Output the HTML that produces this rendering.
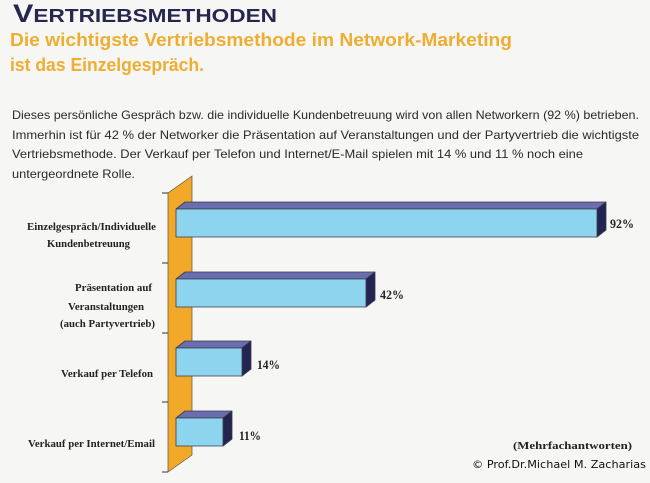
<!DOCTYPE html>
<html>
<head>
<meta charset="utf-8">
<style>
  html, body { margin: 0; padding: 0; background: #f6f6f4; }
  svg { display: block; }
</style>
</head>
<body>
<svg width="650" height="483" viewBox="0 0 650 483" xmlns="http://www.w3.org/2000/svg">
  <rect x="0" y="0" width="650" height="483" fill="#f6f6f4"/>

  <!-- Title -->
  <text x="13" y="22" font-family="Liberation Sans, sans-serif" font-weight="bold" fill="#27264f" textLength="264" lengthAdjust="spacingAndGlyphs"><tspan font-size="25">V</tspan><tspan font-size="18.5">ERTRIEBSMETHODEN</tspan></text>

  <!-- Subtitle -->
  <text x="10" y="46" font-family="Liberation Sans, sans-serif" font-weight="bold" font-size="18" fill="#efad32" textLength="502" lengthAdjust="spacingAndGlyphs">Die wichtigste Vertriebsmethode im Network-Marketing</text>
  <text x="10" y="71" font-family="Liberation Sans, sans-serif" font-weight="bold" font-size="18" fill="#efad32" textLength="194" lengthAdjust="spacingAndGlyphs">ist das Einzelgespräch.</text>

  <!-- Body text -->
  <g font-family="Liberation Sans, sans-serif" font-size="12" fill="#2a2a2a">
    <text x="12" y="119" textLength="627" lengthAdjust="spacingAndGlyphs">Dieses persönliche Gespräch bzw. die individuelle Kundenbetreuung wird von allen Networkern (92 %) betrieben.</text>
    <text x="12" y="139" textLength="627" lengthAdjust="spacingAndGlyphs">Immerhin ist für 42 % der Networker die Präsentation auf Veranstaltungen und der Partyvertrieb die wichtigste</text>
    <text x="12" y="158" textLength="571" lengthAdjust="spacingAndGlyphs">Vertriebsmethode. Der Verkauf per Telefon und Internet/E-Mail spielen mit 14 % und 11 % noch eine</text>
    <text x="12" y="178" textLength="123" lengthAdjust="spacingAndGlyphs">untergeordnete Rolle.</text>
  </g>

  <!-- Orange wall -->
  <polygon points="168,193 192,176 192,455 168,472" fill="#f2a92a" stroke="#5a5040" stroke-width="0.7"/>

  <!-- Ticks -->
  <g stroke="#333" stroke-width="1">
    <line x1="162" y1="193" x2="168" y2="193"/>
    <line x1="162" y1="263" x2="168" y2="263"/>
    <line x1="162" y1="333" x2="168" y2="333"/>
    <line x1="162" y1="402" x2="168" y2="402"/>
    <line x1="162" y1="472" x2="168" y2="472"/>
  </g>

  <!-- Bars -->
  <g stroke="#3a3a4a" stroke-width="0.8" stroke-linejoin="round">
    <!-- Bar 1: 92% -->
    <polygon points="176,209 185,202 606,202 597,209" fill="#6a6db0"/>
    <polygon points="597,209 606,202 606,230 597,237" fill="#232452"/>
    <rect x="176" y="209" width="421" height="28" fill="#8dd4ef"/>
    <!-- Bar 2: 42% -->
    <polygon points="176,279 185,272 375,272 366,279" fill="#6a6db0"/>
    <polygon points="366,279 375,272 375,300 366,307" fill="#232452"/>
    <rect x="176" y="279" width="190" height="28" fill="#8dd4ef"/>
    <!-- Bar 3: 14% -->
    <polygon points="176,348 185,341 251,341 242,348" fill="#6a6db0"/>
    <polygon points="242,348 251,341 251,369 242,376" fill="#232452"/>
    <rect x="176" y="348" width="66" height="28" fill="#8dd4ef"/>
    <!-- Bar 4: 11% -->
    <polygon points="176,418 185,411 232,411 223,418" fill="#6a6db0"/>
    <polygon points="223,418 232,411 232,439 223,446" fill="#232452"/>
    <rect x="176" y="418" width="47" height="28" fill="#8dd4ef"/>
  </g>

  <!-- Value labels -->
  <g font-family="Liberation Serif, serif" font-weight="bold" font-size="13" fill="#222">
    <text x="610" y="228" textLength="24" lengthAdjust="spacingAndGlyphs">92%</text>
    <text x="380" y="299" textLength="24" lengthAdjust="spacingAndGlyphs">42%</text>
    <text x="257" y="369" textLength="23" lengthAdjust="spacingAndGlyphs">14%</text>
    <text x="239" y="440" textLength="22" lengthAdjust="spacingAndGlyphs">11%</text>
  </g>

  <!-- Category labels -->
  <g font-family="Liberation Serif, serif" font-weight="bold" font-size="11" fill="#222">
    <text x="27" y="230" textLength="129" lengthAdjust="spacingAndGlyphs">Einzelgespräch/Individuelle</text>
    <text x="47" y="247" textLength="83" lengthAdjust="spacingAndGlyphs">Kundenbetreuung</text>
    <text x="75" y="291" textLength="77" lengthAdjust="spacingAndGlyphs">Präsentation auf</text>
    <text x="68" y="310" textLength="76" lengthAdjust="spacingAndGlyphs">Veranstaltungen</text>
    <text x="60" y="327" textLength="95" lengthAdjust="spacingAndGlyphs">(auch Partyvertrieb)</text>
    <text x="61" y="377" textLength="92" lengthAdjust="spacingAndGlyphs">Verkauf per Telefon</text>
    <text x="28" y="447" textLength="127" lengthAdjust="spacingAndGlyphs">Verkauf per Internet/Email</text>
  </g>

  <!-- Footnotes -->
  <text x="513" y="449" font-family="Liberation Serif, serif" font-weight="bold" font-size="11" fill="#222" textLength="119" lengthAdjust="spacingAndGlyphs">(Mehrfachantworten)</text>
  <text x="472" y="468" font-family="DejaVu Sans, Liberation Sans, sans-serif" font-size="11" fill="#111" textLength="174" lengthAdjust="spacingAndGlyphs">© Prof.Dr.Michael M. Zacharias</text>
</svg>
</body>
</html>
